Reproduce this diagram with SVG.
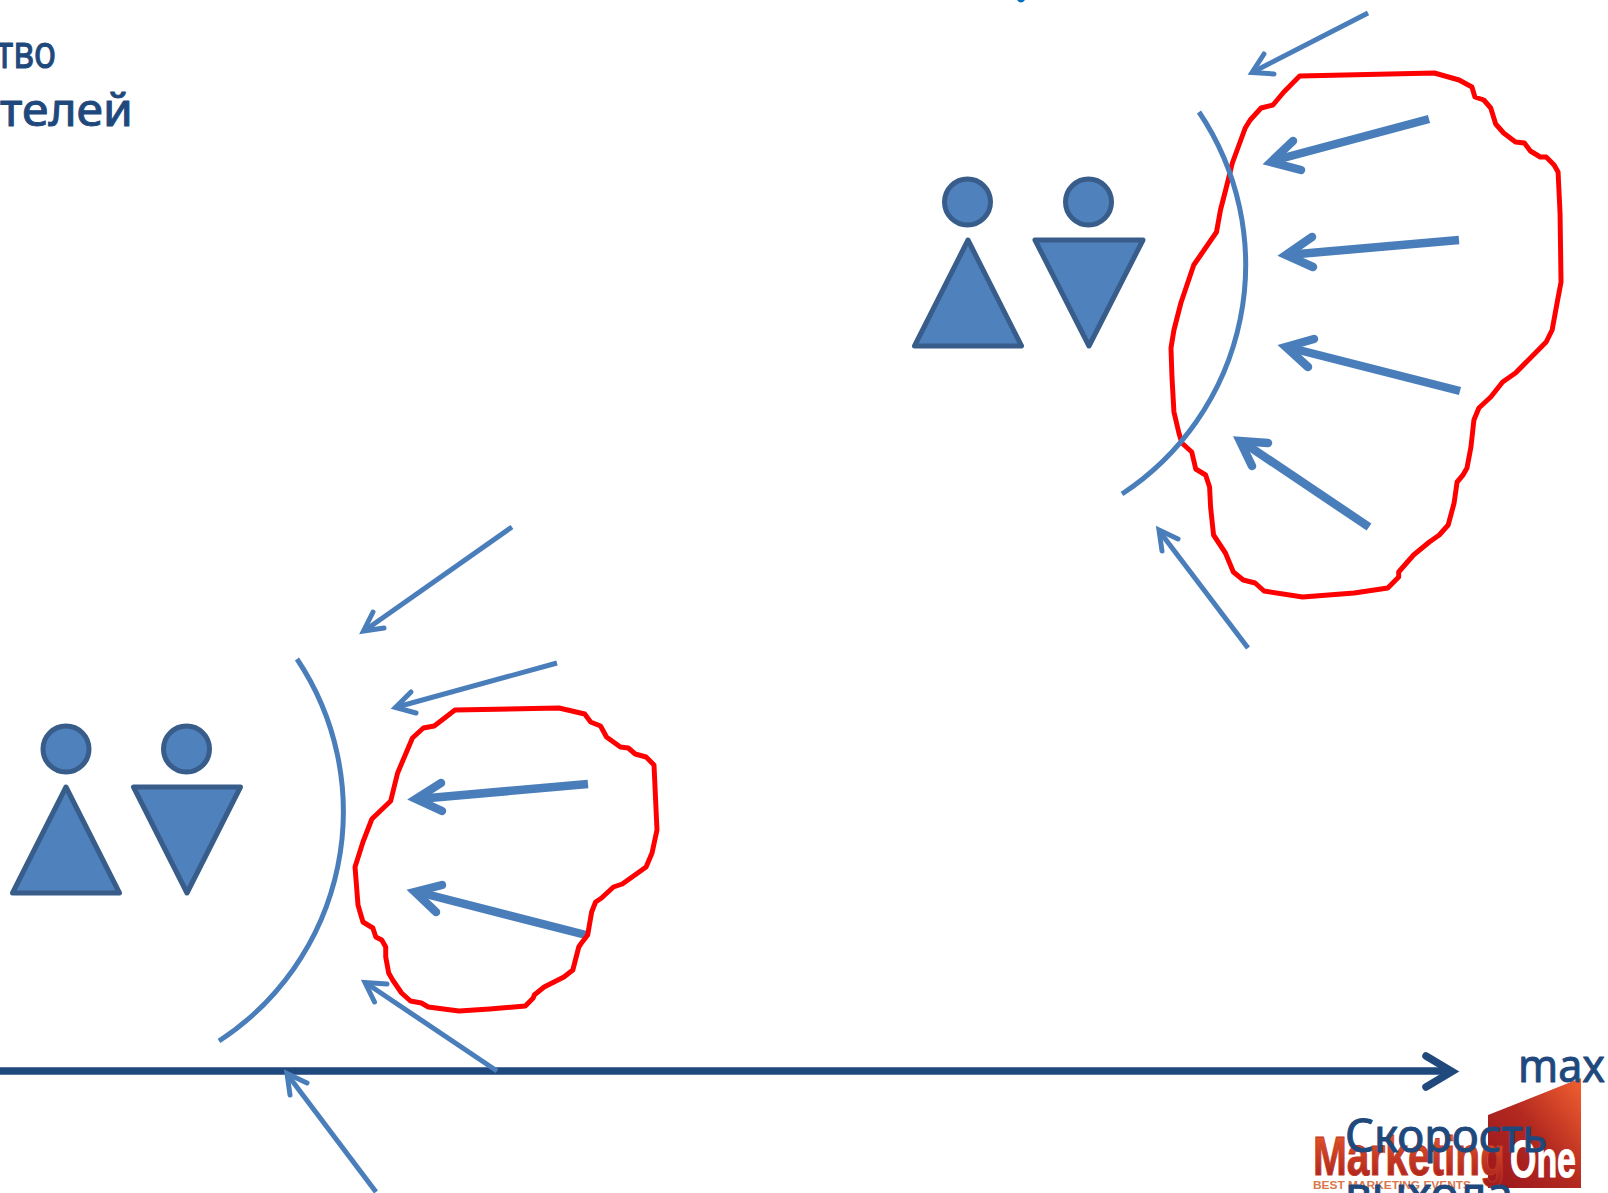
<svg xmlns="http://www.w3.org/2000/svg" width="1608" height="1193" viewBox="0 0 1608 1193">
<style>
.person{fill:#4f81bd;stroke:#385d8a;stroke-width:5;stroke-linejoin:round}
.thin,.thick,.arc,.blob,.axis{fill:none}
.thin,.thick{stroke:#4a7ebb;stroke-linejoin:miter;stroke-miterlimit:10}
.thin{stroke-width:5}
.thick{stroke-width:8.5}
.head{stroke-linecap:round}
.arc{stroke:#4a7ebb;stroke-width:5}
.blob{stroke:#ff0000;stroke-width:5;stroke-linejoin:round}
.axis{stroke:#1f497d;stroke-width:7.5;stroke-miterlimit:10}
.label{font-family:"Noto Sans","Open Sans",sans-serif;fill:#1f497d;stroke:#1f497d;stroke-width:1;stroke-linejoin:round;font-size:45px}
</style>
<defs>
<linearGradient id="lg" x1="1" y1="0" x2="0.1" y2="0.85"><stop offset="0" stop-color="#f26130"/><stop offset="0.55" stop-color="#b42a20"/><stop offset="1" stop-color="#a01a1e"/></linearGradient>
<linearGradient id="tg" x1="0" y1="0" x2="0" y2="1"><stop offset="0" stop-color="#f0602c"/><stop offset="1" stop-color="#a31a1c"/></linearGradient>
</defs>

<g id="logo">
<path d="M1488 1115L1581 1078V1188H1488Z" fill="url(#lg)"/>
<text x="1313" y="1175" font-family="Liberation Sans,sans-serif" font-weight="700" font-size="56" fill="url(#tg)" stroke="#c0381f" stroke-width="1" textLength="192" lengthAdjust="spacingAndGlyphs">Marketing</text>
<text x="1510" y="1177" font-family="Liberation Sans,sans-serif" font-weight="700" font-size="52" fill="#fff" stroke="#fff" stroke-width="1" textLength="66" lengthAdjust="spacingAndGlyphs">One</text>
<text x="1313" y="1189" font-family="Liberation Sans,sans-serif" font-weight="700" font-size="11" fill="#d9784c" textLength="158" lengthAdjust="spacingAndGlyphs">BEST MARKETING EVENTS</text>
</g>

<g id="person-1a"><circle class="person" cx="967.5" cy="202" r="23"/><path class="person" d="M968 240L1021.500 346H914.500Z"/></g>
<g id="person-1b"><circle class="person" cx="1088.5" cy="202" r="23"/><path class="person" d="M1035 240H1143L1089 346Z"/></g>
<g id="person-2a"><circle class="person" cx="66" cy="749" r="23"/><path class="person" d="M66 787L119.500 893H12.500Z"/></g>
<g id="person-2b"><circle class="person" cx="186.5" cy="749" r="23"/><path class="person" d="M133.500 787H240.500L187 893Z"/></g>

<g id="blob-1"><path class="blob" transform="translate(10.7 0) scale(0.99 1)" d="M1302 76L1438 73L1463 80L1476 87L1479 97L1488 100L1495 108L1500 124L1508 133L1520 142L1529 143L1535 151L1545 157L1551 157L1559 165L1563 172L1565 213L1566 282L1562 303L1557 330L1551 342L1543 350L1520 373L1507 382L1495 397L1483 408L1478 420L1475 447L1471 468L1467 475L1461 482L1458 503L1452 525L1443 535L1433 542L1417 555L1402 572L1402 577L1391 588L1357 593L1305 597L1266 591L1257 583L1245 580L1235 572L1227 553L1215 535L1212 507L1211 487L1207 475L1197 469L1193 452L1183 443L1180 433L1175 412L1173 377L1172 348L1175 330L1182 303L1195 265L1202 255L1218 232L1222 210L1228 187L1234 163L1247 128L1252 120L1263 108L1275 105L1286 92Z"/></g>

<g id="connectors">
<path class="axis" d="M0 1071H1448"/>
<path class="axis head" d="M1426 1056L1452 1071.5L1426 1087"/>

<path class="arc" d="M1199 112A274 274 0 0 1 1122 494"/>
<path class="arc" d="M297 659A274 274 0 0 1 219 1041"/>

<path class="thin" d="M1368 13L1253 72"/><path class="thin head" d="M1264 54L1252 72.500L1274 74"/>
<path class="thick" d="M1429 119L1272 161"/><path class="thick head" d="M1293 141L1271 162L1301 170"/>
<path class="thick" d="M1459 240L1287 255"/><path class="thick head" d="M1312 237L1286 255L1313 267"/>
<path class="thick" d="M1460 391L1287 347"/><path class="thick head" d="M1314 339L1286 347L1308 367"/>
<path class="thick" d="M1369 527L1241 441"/><path class="thick head" d="M1268 443L1240 441L1252 466"/>
<path class="thin" d="M1248 648L1160 532"/><path class="thin head" d="M1178 539L1159 530L1162 551"/>

<path class="thin" d="M512 527L364 631"/><path class="thin head" d="M373 612L363.500 631L384 628"/>
<path class="thin" d="M557 663L397 707"/><path class="thin head" d="M411 692L395.500 707.500L416 713"/>
<path class="thick" d="M588 784L418 799"/><path class="thick head" d="M441 783L416 799L442 811"/>
<path class="thick" d="M586 935L418 892"/><path class="thick head" d="M442 885L415 892L436 912"/>
<path class="thin" d="M497 1071L366 983"/><path class="thin head" d="M387 984L365 982.500L374.500 1002"/>
<path class="thin" d="M376 1192L287 1074"/><path class="thin head" d="M307 1083L287 1073.500L290 1095"/>
</g>

<g id="blob-2"><path class="blob" transform="translate(1.6 0) scale(0.99 1)" d="M458 710L563 708L589 714L595 722L605 726L611 737L625 747L633 748L640 754L651 757L659 765L662 830L657 853L651 867L627 884L618 887L606 898L600 902L596 912L592 935L585 944L583 947L577 970L568 977L548 987L538 995L537 998L529 1006L493 1009L462 1011L431 1007L424 1003L413 1001L404 993L395 980L391 973L388 957L388 947L384 940L378 937L375 928L365 922L360 905L357 867L365 842L374 819L393 801L400 773L415 738L426 728L437 726Z"/></g>

<g id="labels">
<text class="label" x="-4" y="68" textLength="60" lengthAdjust="spacingAndGlyphs">тво</text>
<text class="label" x="0" y="126" textLength="133" lengthAdjust="spacingAndGlyphs">телей</text>
<text class="label" x="1518" y="1082" textLength="87" lengthAdjust="spacingAndGlyphs">max</text>
<text class="label" x="1345" y="1152" textLength="202" lengthAdjust="spacingAndGlyphs">Скорость</text>
<text class="label" x="1345" y="1210" textLength="168" lengthAdjust="spacingAndGlyphs">выхода</text>
<path d="M1017 0Q1021 5 1025 0Z" fill="#0070c0"/>
</g>
</svg>
